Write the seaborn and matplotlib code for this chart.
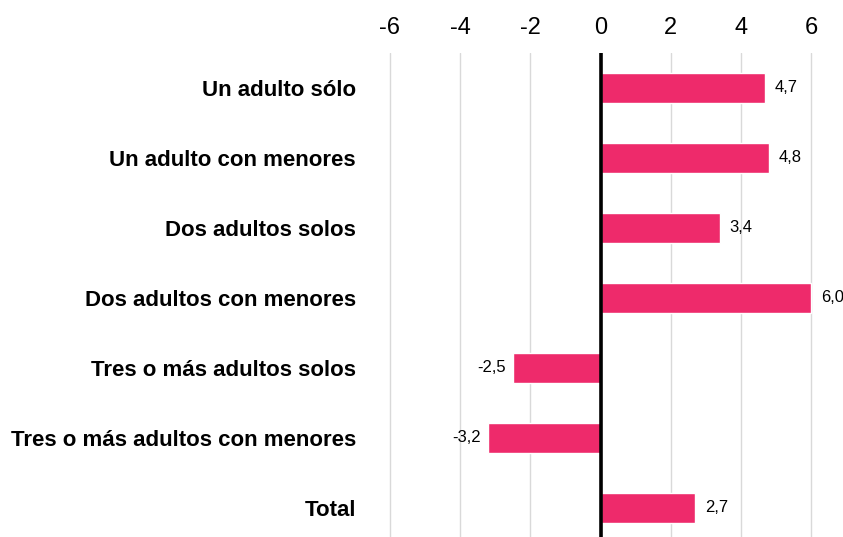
import matplotlib
matplotlib.use("Agg")
import matplotlib.pyplot as plt
import seaborn as sns
import pandas as pd

categories = [
    "Un adulto sólo",
    "Un adulto con menores",
    "Dos adultos solos",
    "Dos adultos con menores",
    "Tres o más adultos solos",
    "Tres o más adultos con menores",
    "Total",
]
values = [4.7, 4.8, 3.4, 6.0, -2.5, -3.2, 2.7]
xticks = [-6, -4, -2, 0, 2, 4, 6]

sns.set_style("white")
plt.rcParams["font.family"] = ["Liberation Sans", "DejaVu Sans"]
plt.rcParams["text.color"] = "black"
plt.rcParams["xtick.color"] = "black"
plt.rcParams["ytick.color"] = "black"

df = pd.DataFrame({"cat": categories, "val": values})

W, H = 843, 537
fig = plt.figure(figsize=(W / 100, H / 100), dpi=100)
ax = fig.add_axes([370 / W, 0, (831 - 370) / W, (537 - 53) / H])

bar_color = "#EE2A6B"
sns.barplot(data=df, x="val", y="cat", orient="h", color=bar_color,
            saturation=1, width=0.42, ax=ax, zorder=3)

ax.set_xlim(-6.57, 6.57)
ax.set_ylim(-0.5 + 484 / 70, -0.5)
ax.set_xticks(xticks)
ax.set_xticklabels([str(t) for t in xticks], fontsize=17)
ax.xaxis.tick_top()
ax.tick_params(axis="x", length=0, pad=10)
ax.tick_params(axis="y", length=0, pad=10)
for lbl in ax.get_yticklabels():
    lbl.set_fontweight("bold")
    lbl.set_fontsize(16)
    lbl.set_color("black")
ax.set_xlabel("")
ax.set_ylabel("")
for s in ax.spines.values():
    s.set_visible(False)
ax.grid(axis="x", color="#d9d9d9", linewidth=1, zorder=0)
ax.grid(axis="y", visible=False)
ax.axvline(0, color="black", linewidth=2.6, zorder=4)

for i, v in enumerate(values):
    txt = f"{v:.1f}".replace(".", ",")
    if v >= 0:
        ax.annotate(txt, (v, i), xytext=(7, 0), textcoords="offset points",
                    ha="left", va="center", fontsize=12, color="black")
    else:
        ax.annotate(txt, (v, i), xytext=(-5, 0), textcoords="offset points",
                    ha="right", va="center", fontsize=12, color="black")

fig.savefig("out.png", dpi=100)
